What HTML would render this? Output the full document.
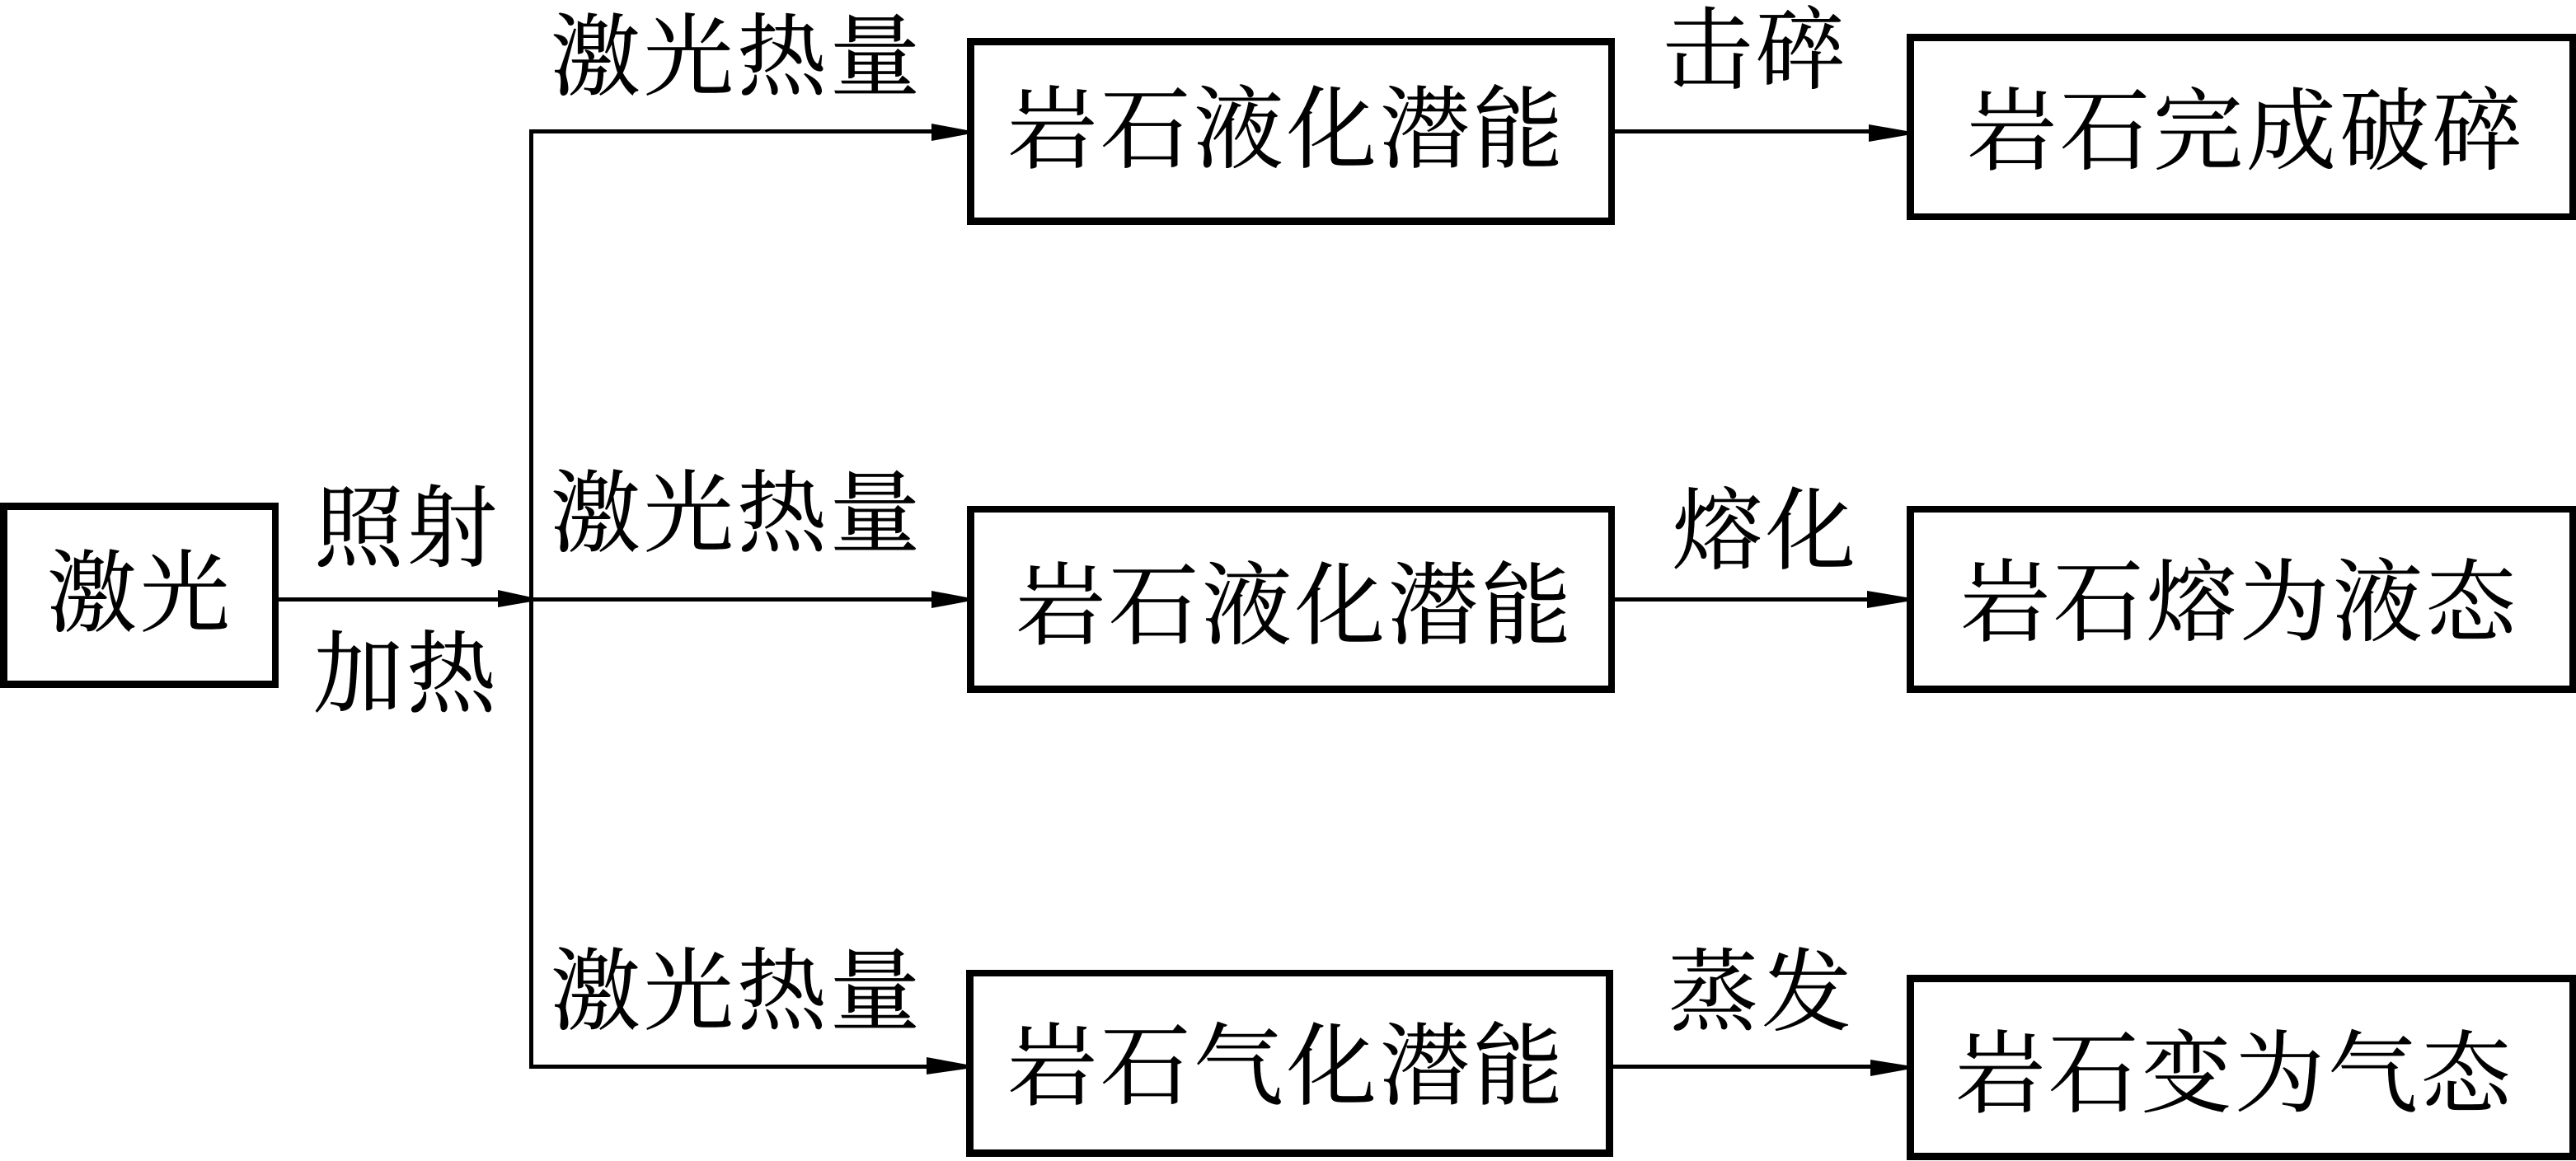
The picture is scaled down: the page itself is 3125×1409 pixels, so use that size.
<!DOCTYPE html>
<html lang="zh"><head><meta charset="utf-8"><title>激光破岩</title>
<style>html,body{margin:0;padding:0;background:#fff;width:3125px;height:1409px;overflow:hidden}svg{display:block}
text{font-family:"Liberation Serif","Noto Serif CJK SC",serif;font-size:109px;letter-spacing:4px;fill:#000;stroke:#000;stroke-width:.5px}</style></head>
<body>
<svg width="3125" height="1409" viewBox="0 0 3125 1409" xmlns="http://www.w3.org/2000/svg">
<rect width="3125" height="1409" fill="#fff"/>
<g fill="#000">
<!-- boxes -->
<path fill-rule="evenodd" d="M0 610H338V835H0ZM9 619V826H330V619Z"/>
<path fill-rule="evenodd" d="M1173 46H1959V273H1173ZM1182 55V264H1951V55Z"/>
<path fill-rule="evenodd" d="M1173 614H1959V841H1173ZM1182 622V832H1951V622Z"/>
<path fill-rule="evenodd" d="M1172 1177H1957V1404H1172ZM1181 1185V1395H1948V1185Z"/>
<path fill-rule="evenodd" d="M2313 41H3125V267H2313ZM2322 50V259H3117V50Z"/>
<path fill-rule="evenodd" d="M2313 614H3125V841H2313ZM2322 622V832H3117V622Z"/>
<path fill-rule="evenodd" d="M2313 1183H3125V1408H2313ZM2322 1192V1399H3117V1192Z"/>
<!-- lines -->
<rect x="642" y="157" width="5" height="1140"/>
<rect x="642" y="157" width="500" height="5"/>
<rect x="338" y="725" width="835" height="5"/>
<rect x="642" y="1292" width="500" height="5"/>
<rect x="1959" y="157" width="320" height="5"/>
<rect x="1959" y="725" width="320" height="5"/>
<rect x="1957" y="1292" width="320" height="5"/>
<!-- arrowheads -->
<path d="M604 716L645 725V730L604 737Z"/>
<path d="M1130 150L1173 158V163L1130 171Z"/>
<path d="M1130 717L1173 725V730L1130 738Z"/>
<path d="M1124 1283L1173 1292V1297L1124 1304Z"/>
<path d="M2267 151L2313 159V164L2267 172Z"/>
<path d="M2265 717L2313 725V730L2265 738Z"/>
<path d="M2269 1286L2313 1293V1298L2269 1306Z"/>
</g>
<!-- labels -->
<text x="57" y="758">激光</text>
<text x="381" y="679">照射</text>
<text x="380" y="856">加热</text>
<text x="668" y="107">激光热量</text>
<text x="668" y="661">激光热量</text>
<text x="668" y="1241">激光热量</text>
<text x="1222" y="195">岩石液化潜能</text>
<text x="1232" y="773">岩石液化潜能</text>
<text x="1222" y="1332">岩石气化潜能</text>
<text x="2017" y="99">击碎</text>
<text x="2029" y="682">熔化</text>
<text x="2024" y="1242">蒸发</text>
<text x="2386" y="197">岩石完成破碎</text>
<text x="2378" y="769">岩石熔为液态</text>
<text x="2372" y="1341">岩石变为气态</text>
</svg>
</body></html>
